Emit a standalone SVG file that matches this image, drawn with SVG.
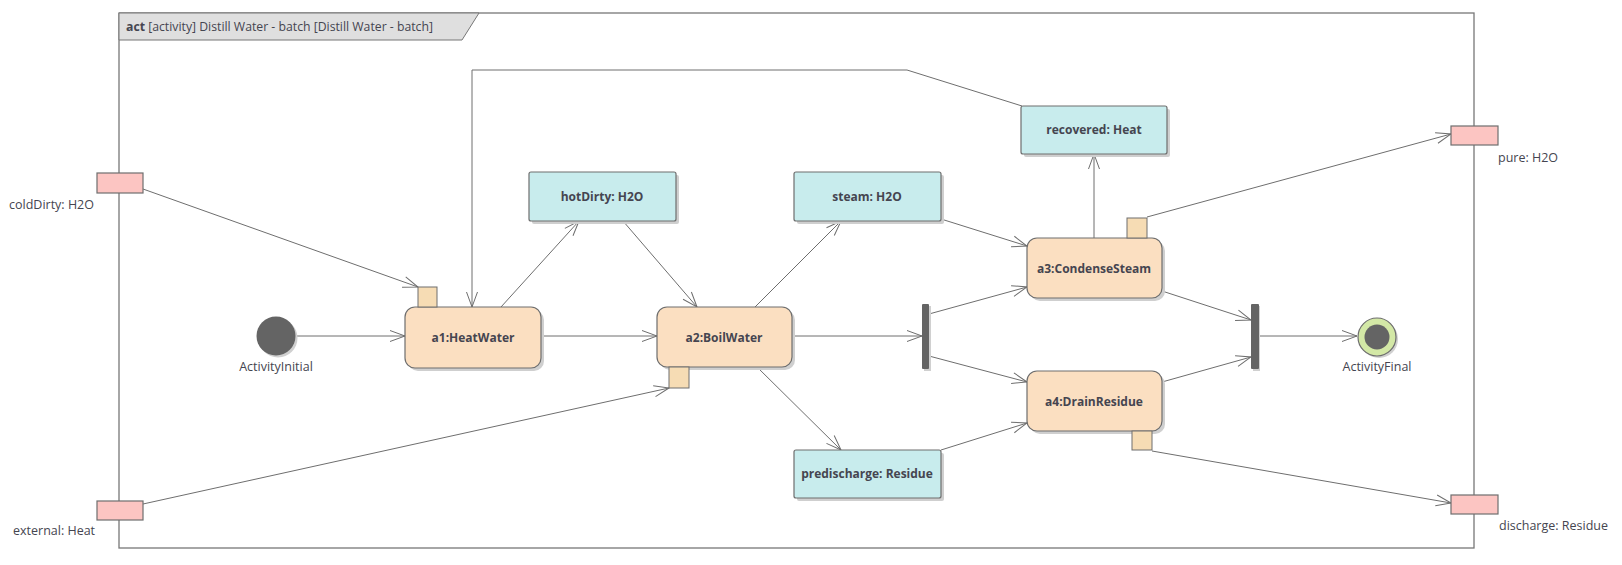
<svg xmlns="http://www.w3.org/2000/svg" width="1622" height="565" viewBox="0 0 1622 565">
<style>
text{font-family:"Open Sans","Noto Sans","Liberation Sans",sans-serif;fill:#454550}
.lbl{font-size:12px;font-weight:bold;text-anchor:middle}
.plain{font-size:12.5px}
.act{fill:#fbdfc1;stroke:#6e6e6e;stroke-width:1.2}
.obj{fill:#c8eced;stroke:#6e6e6e;stroke-width:1.2}
.pin{fill:#f6dcb4;stroke:#6e6e6e;stroke-width:1}
.port{fill:#fcc5c2;stroke:#6e6e6e;stroke-width:1.2}
.shd{fill:#cfcfcf}
.bar{fill:#646464}
.edge line,.edge polyline{stroke:#6e6e6e;stroke-width:1;fill:none;marker-end:url(#arr)}
</style>
<defs>
<marker id="arr" markerUnits="userSpaceOnUse" markerWidth="18" markerHeight="14" refX="16" refY="7" orient="auto">
<path d="M1,1.5 L16,7 L1,12.5" fill="none" stroke="#6e6e6e" stroke-width="1"/>
</marker>
</defs>
<rect width="1622" height="565" fill="#fff"/>
<g id="frame">
<rect x="119" y="13" width="1355" height="535" fill="none" stroke="#777" stroke-width="1.3"/>
<polygon points="119,13 479,13 462,40 119,40" fill="#dfdfdf" stroke="#777" stroke-width="1"/>
<text x="126" y="31" font-size="12" textLength="307" lengthAdjust="spacingAndGlyphs"><tspan font-weight="bold">act</tspan> [activity] Distill Water - batch [Distill Water - batch]</text>
</g>
<g id="edges" class="edge">
<line x1="143" y1="189" x2="418" y2="287"/>
<line x1="296" y1="336" x2="405" y2="336"/>
<line x1="501" y1="307" x2="579" y2="221"/>
<line x1="623" y1="221" x2="697" y2="307"/>
<line x1="541" y1="336" x2="657" y2="336"/>
<line x1="755" y1="307" x2="841" y2="221"/>
<line x1="941" y1="219" x2="1027" y2="246"/>
<line x1="792" y1="336" x2="922" y2="336"/>
<line x1="929" y1="314" x2="1027" y2="287"/>
<line x1="929" y1="356" x2="1027" y2="382"/>
<line x1="757" y1="367" x2="841" y2="450"/>
<line x1="941" y1="450" x2="1027" y2="423"/>
<line x1="1094" y1="238" x2="1094" y2="154"/>
<line x1="1147" y1="217" x2="1451" y2="134"/>
<line x1="1162" y1="291" x2="1251" y2="320"/>
<line x1="1162" y1="382" x2="1251" y2="357"/>
<line x1="1259" y1="336" x2="1357" y2="336"/>
<line x1="1152" y1="451" x2="1451" y2="503"/>
<line x1="143" y1="504" x2="669" y2="388"/>
<polyline points="1022,106 907,70 472,70 472,307"/>
</g>
<g id="coldDirty">
<rect class="port" x="97" y="173" width="46" height="20"/>
<text class="plain" x="9" y="209">coldDirty: H2O</text>
</g>
<g id="external">
<rect class="port" x="97" y="501" width="46" height="19"/>
<text class="plain" x="13" y="535">external: Heat</text>
</g>
<g id="pure">
<rect class="port" x="1451" y="126" width="47" height="19"/>
<text class="plain" x="1498" y="162">pure: H2O</text>
</g>
<g id="discharge">
<rect class="port" x="1451" y="495" width="47" height="19"/>
<text class="plain" x="1499" y="530">discharge: Residue</text>
</g>
<g id="ActivityInitial">
<circle cx="278" cy="338" r="19.5" fill="#d0d0d0"/>
<circle cx="276" cy="336" r="19.5" fill="#646464"/>
<text class="plain" x="276" y="371" text-anchor="middle">ActivityInitial</text>
</g>
<g id="a1">
<rect class="shd" x="408" y="310" width="136" height="61" rx="10"/>
<rect class="act" x="405" y="307" width="136" height="61" rx="10"/>
<rect class="pin" x="418" y="287" width="19" height="20"/>
<text class="lbl" x="473" y="342">a1:HeatWater</text>
</g>
<g id="a2">
<rect class="shd" x="660" y="310" width="135" height="60" rx="10"/>
<rect class="act" x="657" y="307" width="135" height="60" rx="10"/>
<rect class="pin" x="669" y="367" width="20" height="21"/>
<text class="lbl" x="724" y="342">a2:BoilWater</text>
</g>
<g id="hotDirty">
<rect class="shd" x="532" y="175" width="147" height="49" rx="2"/>
<rect class="obj" x="529" y="172" width="147" height="49" rx="2"/>
<text class="lbl" x="602" y="201">hotDirty: H2O</text>
</g>
<g id="steam">
<rect class="shd" x="797" y="175" width="147" height="49" rx="2"/>
<rect class="obj" x="794" y="172" width="147" height="49" rx="2"/>
<text class="lbl" x="867" y="201">steam: H2O</text>
</g>
<g id="predischarge">
<rect class="shd" x="797" y="453" width="147" height="48" rx="2"/>
<rect class="obj" x="794" y="450" width="147" height="48" rx="2"/>
<text class="lbl" x="867" y="478">predischarge: Residue</text>
</g>
<g id="recovered">
<rect class="shd" x="1024" y="109" width="146" height="48" rx="2"/>
<rect class="obj" x="1021" y="106" width="146" height="48" rx="2"/>
<text class="lbl" x="1094" y="134">recovered: Heat</text>
</g>
<g id="fork">
<rect x="924" y="306" width="7" height="65" fill="#d0d0d0"/>
<rect class="bar" x="922" y="304" width="7" height="65" rx="1"/>
</g>
<g id="a3">
<rect class="shd" x="1030" y="241" width="135" height="60" rx="10"/>
<rect class="act" x="1027" y="238" width="135" height="60" rx="10"/>
<rect class="pin" x="1127" y="218" width="20" height="20"/>
<text class="lbl" x="1094" y="273">a3:CondenseSteam</text>
</g>
<g id="a4">
<rect class="shd" x="1030" y="374" width="135" height="60" rx="10"/>
<rect class="act" x="1027" y="371" width="135" height="60" rx="10"/>
<rect class="pin" x="1132" y="431" width="20" height="19"/>
<text class="lbl" x="1094" y="406">a4:DrainResidue</text>
</g>
<g id="join">
<rect x="1253" y="306" width="7" height="65" fill="#d0d0d0"/>
<rect class="bar" x="1251" y="304" width="8" height="65" rx="1"/>
</g>
<g id="ActivityFinal">
<circle cx="1379" cy="339" r="19" fill="#d0d0d0"/>
<circle cx="1377" cy="337" r="19" fill="#d3e8a6" stroke="#6e6e6e" stroke-width="1.2"/>
<circle cx="1377" cy="337" r="12.5" fill="#646464"/>
<text class="plain" x="1377" y="371" text-anchor="middle">ActivityFinal</text>
</g>
</svg>
